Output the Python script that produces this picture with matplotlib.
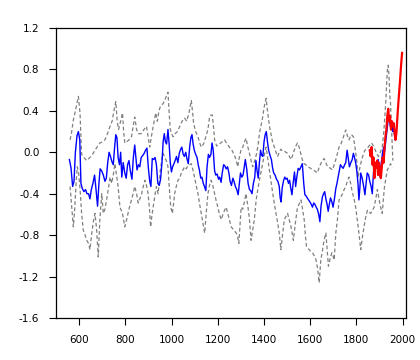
import numpy as np
import matplotlib.pyplot as plt

# reconstruction (blue)
blue_years = [557, 564, 571, 577, 583, 590, 596, 602, 607, 613, 620, 627, 633, 640, 646, 652, 659, 666,
              672, 679, 685, 690, 697, 704, 711, 717, 723, 729, 735, 741, 747, 753, 758, 763, 768, 774,
              779, 784, 790, 797, 803, 809, 815, 821, 828, 834, 840, 845, 850, 856, 862, 868, 875, 881,
              887, 893, 899, 905, 910, 916, 922, 928, 934, 940, 946, 952, 958, 963, 968, 973, 978, 984,
              989, 994, 999, 1004, 1010, 1015, 1021, 1027, 1033, 1039, 1044, 1050, 1055, 1061, 1066,
              1072, 1078, 1083, 1088, 1093, 1098, 1104, 1110, 1115, 1120, 1126, 1131, 1137, 1142, 1148,
              1153, 1159, 1164, 1170, 1175, 1180, 1186, 1191, 1197, 1203, 1208, 1214, 1219, 1225, 1230,
              1236, 1242, 1248, 1253, 1259, 1265, 1270, 1276, 1282, 1288, 1293, 1298, 1304, 1309, 1314,
              1319, 1325, 1331, 1337, 1342, 1348, 1354, 1360, 1365, 1370, 1375, 1380, 1385, 1390, 1395,
              1400, 1405, 1410, 1415, 1420, 1426, 1432, 1437, 1442, 1448, 1454, 1460, 1466, 1470, 1474,
              1479, 1485, 1490, 1495, 1500, 1506, 1511, 1516, 1521, 1526, 1532, 1537, 1542, 1548, 1554,
              1560, 1566, 1572, 1577, 1582, 1587, 1593, 1599, 1604, 1610, 1615, 1620, 1626, 1631, 1637,
              1642, 1647, 1653, 1658, 1663, 1668, 1673, 1678, 1683, 1688, 1694, 1699, 1705, 1711, 1716,
              1721, 1726, 1731, 1737, 1743, 1749, 1754, 1760, 1765, 1770, 1776, 1782, 1787, 1792, 1797,
              1802, 1807, 1811, 1815, 1819, 1825, 1831, 1837, 1842, 1847, 1853, 1858, 1864, 1869, 1874,
              1878, 1884, 1889, 1894, 1899, 1903, 1908, 1913, 1918, 1922, 1927, 1932, 1937, 1942, 1947,
              1952, 1957, 1962, 1967, 1972]
blue_vals = [-0.07, -0.15, -0.33, -0.28, 0.0, 0.16, 0.2, 0.12, -0.3, -0.35, -0.38, -0.36, -0.4, -0.4,
             -0.45, -0.36, -0.3, -0.22, -0.35, -0.52, -0.3, -0.16, -0.18, -0.22, -0.28, -0.25, -0.1, 0.0,
             -0.04, -0.09, -0.12, 0.05, 0.17, 0.14, -0.05, -0.12, 0.0, -0.24, -0.1, -0.2, -0.25, -0.12,
             -0.08, -0.18, -0.26, -0.05, 0.07, -0.05, -0.17, -0.12, -0.14, -0.05, -0.03, -0.01, 0.02,
             0.04, -0.15, -0.28, -0.33, -0.06, -0.07, -0.05, -0.12, -0.3, -0.32, -0.26, -0.1, 0.1, 0.18,
             0.1, 0.08, 0.22, 0.08, -0.1, -0.19, -0.14, -0.11, -0.08, -0.04, -0.1, -0.01, 0.03, 0.05,
             -0.02, -0.04, 0.0, -0.06, -0.11, 0.05, 0.14, 0.17, 0.08, 0.02, -0.02, -0.05, -0.12, -0.17,
             -0.25, -0.24, -0.3, -0.33, -0.37, -0.15, -0.02, -0.05, -0.02, 0.09, 0.02, -0.18, -0.22,
             -0.21, -0.26, -0.24, -0.29, -0.2, -0.12, -0.13, -0.16, -0.14, -0.2, -0.28, -0.32, -0.25,
             -0.28, -0.33, -0.36, -0.41, -0.3, -0.2, -0.24, -0.22, -0.15, -0.07, -0.16, -0.3, -0.36,
             -0.37, -0.4, -0.3, -0.24, -0.08, -0.18, -0.25, -0.1, 0.02, -0.03, -0.04, 0.1, 0.17, 0.2,
             0.1, 0.02, -0.03, -0.07, -0.15, -0.2, -0.22, -0.26, -0.28, -0.33, -0.44, -0.48, -0.34,
             -0.27, -0.24, -0.26, -0.25, -0.3, -0.27, -0.35, -0.41, -0.3, -0.19, -0.33, -0.24, -0.155,
             -0.17, -0.14, -0.11, -0.3, -0.41, -0.42, -0.44, -0.46, -0.48, -0.5, -0.53, -0.49, -0.5,
             -0.53, -0.55, -0.6, -0.67, -0.52, -0.43, -0.4, -0.38, -0.45, -0.5, -0.57, -0.5, -0.44,
             -0.48, -0.53, -0.45, -0.35, -0.3, -0.24, -0.18, -0.12, -0.14, -0.155, -0.12, -0.1, 0.02,
             -0.06, -0.14, -0.1, -0.07, -0.01, -0.05, -0.1, -0.18, -0.3, -0.46, -0.35, -0.2, -0.25,
             -0.32, -0.41, -0.3, -0.2, -0.22, -0.28, -0.33, -0.4, -0.2, -0.11, -0.15, -0.1, -0.07,
             -0.15, -0.24, -0.1, -0.01, 0.05, 0.0, 0.1, 0.2, 0.3, 0.35, 0.25, 0.3, 0.2, 0.25, 0.12, 0.15]

# upper uncertainty (grey dashed)
upper_years = [560, 567, 574, 585, 596, 603, 610, 620, 632, 646, 657, 668, 680, 689, 700, 711, 722, 733,
               742, 750, 758, 764, 770, 779, 787, 792, 797, 805, 815, 826, 833, 840, 848, 855, 862, 869,
               880, 891, 898, 905, 912, 920, 931, 938, 945, 952, 963, 970, 978, 984, 990, 994, 1000,
               1006, 1015, 1025, 1035, 1045, 1056, 1065, 1075, 1085, 1090, 1095, 1104, 1114, 1120, 1128,
               1138, 1148, 1157, 1164, 1170, 1176, 1181, 1186, 1195, 1207, 1218, 1229, 1240, 1250, 1261,
               1272, 1280, 1286, 1293, 1300, 1308, 1315, 1322, 1330, 1337, 1344, 1351, 1360, 1368, 1375,
               1380, 1386, 1392, 1397, 1401, 1409, 1415, 1420, 1426, 1430, 1437, 1445, 1452, 1459, 1466,
               1473, 1480, 1488, 1495, 1502, 1510, 1517, 1524, 1531, 1538, 1545, 1552, 1560, 1567, 1574,
               1581, 1588, 1599, 1610, 1620, 1631, 1638, 1646, 1653, 1660, 1668, 1675, 1685, 1696, 1704,
               1711, 1718, 1725, 1733, 1740, 1747, 1754, 1761, 1768, 1774, 1779, 1787, 1794, 1801, 1808,
               1815, 1823, 1830, 1837, 1844, 1851, 1858, 1866, 1874, 1882, 1889, 1896, 1904, 1912, 1919,
               1927, 1931, 1934, 1938, 1941, 1945, 1948, 1952, 1958]
upper_vals = [0.12, 0.2, 0.31, 0.42, 0.54, 0.38, -0.02, -0.05, -0.08, -0.05, -0.02, 0.02, 0.06, 0.09,
              0.1, 0.12, 0.18, 0.25, 0.3, 0.4, 0.49, 0.3, 0.22, 0.3, 0.38, 0.2, 0.09, 0.1, 0.12, 0.15,
              0.25, 0.34, 0.22, 0.18, 0.18, 0.18, 0.22, 0.25, 0.15, 0.05, 0.15, 0.25, 0.38, 0.3, 0.4,
              0.45, 0.47, 0.5, 0.55, 0.58, 0.35, 0.22, 0.18, 0.15, 0.18, 0.2, 0.25, 0.3, 0.33, 0.3, 0.38,
              0.5, 0.4, 0.28, 0.2, 0.15, 0.1, 0.05, 0.08, 0.15, 0.22, 0.34, 0.36, 0.36, 0.25, 0.12, 0.06,
              0.08, 0.1, 0.12, 0.08, 0.05, 0.02, -0.03, -0.08, -0.14, -0.05, 0.02, 0.05, 0.1, 0.135, 0.05,
              -0.01, -0.08, -0.14, -0.08, -0.01, 0.08, 0.18, 0.25, 0.31, 0.38, 0.44, 0.52, 0.4, 0.31,
              0.22, 0.18, 0.1, 0.05, 0.0, -0.04, 0.0, 0.03, 0.01, 0.01, 0.0, -0.01, -0.04, -0.07, -0.03,
              0.02, 0.06, 0.09, 0.05, -0.02, -0.08, -0.11, -0.12, -0.14, -0.15, -0.17, -0.18, -0.2,
              -0.15, -0.11, -0.08, -0.06, -0.1, -0.14, -0.15, -0.17, -0.12, -0.07, -0.01, 0.05, 0.08,
              0.12, 0.17, 0.215, 0.16, 0.12, 0.15, 0.17, 0.15, 0.05, -0.07, -0.24, -0.15, -0.07, -0.02,
              0.02, 0.03, 0.05, 0.07, 0.09, 0.06, 0.02, -0.02, -0.04, 0.0, 0.05, 0.2, 0.47, 0.65, 0.79,
              0.84, 0.75, 0.55, 0.47, 0.25, -0.08]

# lower uncertainty (grey dashed)
lower_years = [560, 567, 574, 580, 586, 591, 597, 603, 610, 617, 625, 632, 640, 646, 654, 660, 668, 675,
               682, 689, 697, 704, 711, 718, 726, 733, 740, 747, 754, 761, 768, 776, 787, 797, 805, 815,
               826, 833, 840, 848, 855, 862, 870, 877, 884, 891, 898, 904, 909, 914, 920, 927, 934, 941,
               946, 951, 957, 963, 970, 977, 984, 990, 996, 1003, 1008, 1013, 1020, 1027, 1035, 1042,
               1049, 1056, 1063, 1070, 1078, 1085, 1092, 1099, 1106, 1114, 1121, 1128, 1135, 1143, 1150,
               1157, 1164, 1171, 1178, 1186, 1193, 1200, 1207, 1215, 1222, 1229, 1236, 1244, 1251, 1258,
               1265, 1272, 1280, 1286, 1291, 1296, 1301, 1308, 1315, 1322, 1330, 1337, 1344, 1351, 1358,
               1366, 1373, 1380, 1387, 1394, 1401, 1409, 1416, 1423, 1430, 1438, 1445, 1452, 1459, 1466,
               1473, 1480, 1488, 1495, 1502, 1510, 1517, 1522, 1527, 1536, 1545, 1552, 1560, 1567, 1574,
               1579, 1584, 1590, 1596, 1603, 1610, 1618, 1625, 1632, 1639, 1646, 1653, 1660, 1668, 1674,
               1679, 1687, 1694, 1699, 1704, 1711, 1718, 1725, 1733, 1740, 1747, 1754, 1761, 1768, 1775,
               1782, 1790, 1797, 1804, 1811, 1819, 1826, 1833, 1840, 1848, 1855, 1862, 1870, 1877, 1884,
               1891, 1898, 1905, 1912, 1917, 1922, 1928, 1934, 1941, 1948, 1955]
lower_vals = [-0.33, -0.53, -0.72, -0.55, -0.3, -0.14, -0.2, -0.35, -0.59, -0.75, -0.8, -0.85, -0.88,
              -0.94, -0.78, -0.68, -0.59, -0.75, -1.01, -0.65, -0.4, -0.59, -0.55, -0.46, -0.35, -0.24,
              -0.3, -0.22, -0.11, -0.22, -0.33, -0.53, -0.59, -0.72, -0.65, -0.55, -0.46, -0.4, -0.33,
              -0.4, -0.49, -0.45, -0.4, -0.33, -0.27, -0.32, -0.4, -0.55, -0.72, -0.62, -0.53, -0.42,
              -0.33, -0.4, -0.3, -0.17, -0.08, -0.01, -0.05, -0.08, -0.14, -0.35, -0.53, -0.59, -0.5,
              -0.4, -0.33, -0.27, -0.25, -0.2, -0.17, -0.14, -0.16, -0.13, -0.12, -0.11, -0.17, -0.24,
              -0.32, -0.4, -0.5, -0.59, -0.68, -0.78, -0.58, -0.4, -0.32, -0.27, -0.32, -0.4, -0.47,
              -0.53, -0.6, -0.65, -0.6, -0.56, -0.53, -0.6, -0.66, -0.72, -0.74, -0.76, -0.78, -0.82,
              -0.88, -0.7, -0.53, -0.55, -0.48, -0.4, -0.52, -0.65, -0.85, -0.75, -0.65, -0.46, -0.36,
              -0.27, -0.19, -0.11, -0.03, 0.05, -0.06, -0.17, -0.28, -0.4, -0.5, -0.59, -0.68, -0.78,
              -0.94, -0.8, -0.65, -0.62, -0.59, -0.66, -0.72, -0.78, -0.85, -0.68, -0.53, -0.5, -0.46,
              -0.55, -0.65, -0.8, -0.91, -0.93, -0.94, -0.96, -0.97, -1.0, -1.04, -1.12, -1.26, -1.04,
              -0.95, -0.85, -0.78, -0.95, -1.1, -1.02, -0.97, -1.0, -1.04, -0.78, -0.65, -0.46, -0.43,
              -0.4, -0.36, -0.33, -0.28, -0.24, -0.3, -0.38, -0.45, -0.53, -0.65, -0.78, -0.94, -0.82,
              -0.72, -0.63, -0.56, -0.58, -0.59, -0.56, -0.53, -0.45, -0.36, -0.45, -0.53, -0.59, -0.45,
              -0.33, -0.25, -0.17, -0.14, -0.11, -0.15]

# instrumental (red)
red_years = [1858, 1862, 1866, 1870, 1874, 1878, 1882, 1886, 1890, 1894, 1898, 1902, 1906, 1910, 1914,
             1918, 1922, 1926, 1930, 1934, 1938, 1942, 1946, 1950, 1954, 1958, 1962, 1966, 1970, 1974,
             1978, 1982, 1986, 1990, 1994, 1998]
red_vals = [0.02, -0.04, 0.05, -0.12, -0.05, -0.25, -0.1, -0.15, -0.08, -0.22, -0.1, -0.18, -0.25, -0.15,
            -0.05, -0.1, 0.05, 0.15, 0.22, 0.35, 0.42, 0.3, 0.35, 0.22, 0.3, 0.25, 0.28, 0.18, 0.12, 0.2,
            0.35, 0.48, 0.6, 0.72, 0.85, 0.96]

x_ticks = [600, 800, 1000, 1200, 1400, 1600, 1800, 2000]
y_ticks = [-1.6, -1.2, -0.8, -0.4, 0.0, 0.4, 0.8, 1.2]

fig = plt.figure(figsize=(4.2, 3.6), dpi=100)
ax = fig.add_axes([56 / 420, 42 / 360, 350 / 420, 290 / 360])

ax.plot(upper_years, upper_vals, color="#808080", lw=0.9, ls=(0, (3, 2)))
ax.plot(lower_years, lower_vals, color="#808080", lw=0.9, ls=(0, (3, 2)))
ax.plot(blue_years, blue_vals, color="#0000ff", lw=1.0)
ax.plot(red_years, red_vals, color="#ff0000", lw=1.6)

ax.set_xlim(499, 2015)
ax.set_ylim(-1.6, 1.2)
ax.set_xticks(x_ticks)
ax.set_yticks(y_ticks)
ax.set_yticklabels([f"{v:.1f}" for v in y_ticks])
ax.tick_params(direction="out", length=5, width=0.8, labelsize=7.5, pad=7)
for s in ax.spines.values():
    s.set_linewidth(0.9)

fig.savefig("out.png", dpi=100)
